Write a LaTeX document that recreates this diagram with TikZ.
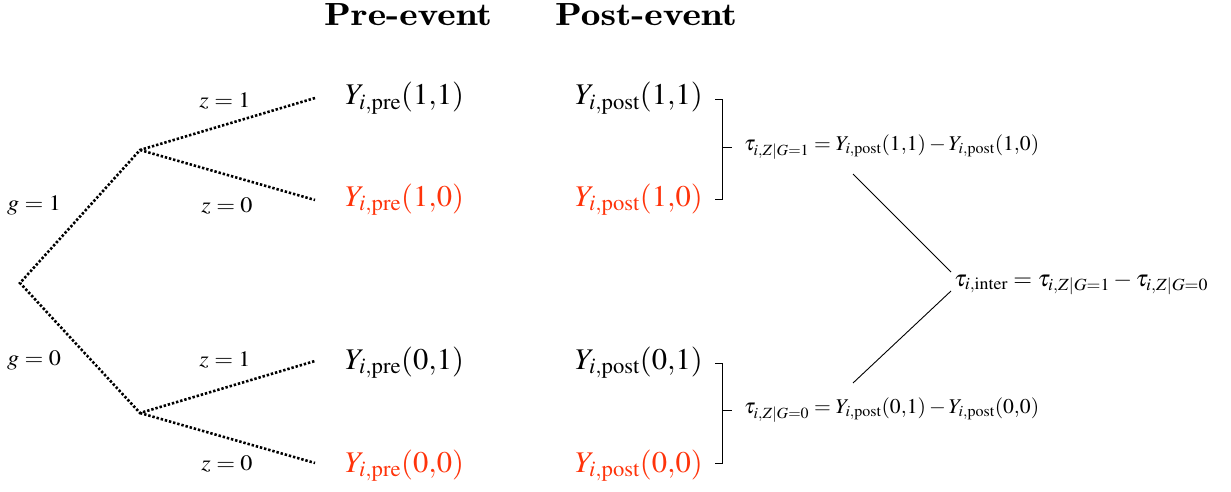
\documentclass[tikz,border=0pt]{standalone}
\usepackage{mathptmx}
\usetikzlibrary{calc}
\definecolor{cfred}{RGB}{255,51,10}
\begin{document}
\begin{tikzpicture}[x=1pt,y=-1pt,
  hdr/.style={font=\fontfamily{lmr}\fontsize{32}{34}\bfseries\selectfont, inner sep=0pt, anchor=base, xscale=1.23},
  ylab/.style={font=\fontsize{30}{32}\selectfont, anchor=base west, inner sep=0pt, xscale=1.02},
  redlab/.style={ylab, text=cfred},
  blab/.style={font=\fontsize{22}{24}\selectfont, inner sep=0pt, xscale=1.1},
  eqlab/.style={font=\fontsize{21}{23}\selectfont, anchor=west, inner sep=0pt, xscale=1.03},
  intlab/.style={font=\fontsize{23}{25}\selectfont, anchor=west, inner sep=0pt, xscale=1.05},
  branch/.style={line width=2.6pt, dash pattern=on 2.4pt off 1.9pt},
  bracket/.style={line width=1pt},
  link/.style={line width=0.9pt}]
\useasboundingbox (0,0) rectangle (1231,492);
% headers
\node[hdr] (hpre) at (408,26) {Pre-event};
\node[hdr] (hpost) at (646,26) {Post-event};
% tree points
\coordinate (R) at (20,283);
\coordinate (G1) at (140,150);
\coordinate (G0) at (140,413);
\coordinate (E11) at (315,98);
\coordinate (E10) at (315,200);
\coordinate (E01) at (315,361);
\coordinate (E00) at (315,463);
\draw[branch] (E11) -- (G1) -- (R) -- (G0) -- (E01);
\draw[branch] (G1) -- (E10);
\draw[branch] (G0) -- (E00);
% branch labels
\node[blab] (lg1) at (34,205) {$g=1$};
\node[blab] (lg0) at (34,360) {$g=0$};
\node[blab] (lz11) at (225,101) {$z=1$};
\node[blab] (lz10) at (227,206) {$z=0$};
\node[blab] (lz01) at (225,360) {$z=1$};
\node[blab] (lz00) at (227,464) {$z=0$};
% potential outcomes
\node[ylab] (pre11) at (345,105) {$Y_{i,\mathrm{pre}}(1{,}1)$};
\node[redlab] (pre10) at (345,206) {$Y_{i,\mathrm{pre}}(1{,}0)$};
\node[ylab] (pre01) at (345,369) {$Y_{i,\mathrm{pre}}(0{,}1)$};
\node[redlab] (pre00) at (345,472) {$Y_{i,\mathrm{pre}}(0{,}0)$};
\node[ylab] (post11) at (575,105) {$Y_{i,\mathrm{post}}(1{,}1)$};
\node[redlab] (post10) at (575,206) {$Y_{i,\mathrm{post}}(1{,}0)$};
\node[ylab] (post01) at (575,369) {$Y_{i,\mathrm{post}}(0{,}1)$};
\node[redlab] (post00) at (575,472) {$Y_{i,\mathrm{post}}(0{,}0)$};
% brackets
\draw[bracket] (715,100) -- (722,100) -- (722,199) -- (715,199);
\draw[bracket] (722,147) -- (732,147);
\draw[bracket] (715,363) -- (722,363) -- (722,463) -- (715,463);
\draw[bracket] (722,410) -- (732,410);
% effects
\node[eqlab] (tau1) at (744,147) {$\tau_{i,Z|G=1}=Y_{i,\mathrm{post}}(1{,}1)-Y_{i,\mathrm{post}}(1{,}0)$};
\node[eqlab] (tau0) at (744,410) {$\tau_{i,Z|G=0}=Y_{i,\mathrm{post}}(0{,}1)-Y_{i,\mathrm{post}}(0{,}0)$};
\node[intlab] (tauint) at (954,284) {$\tau_{i,\mathrm{inter}}=\tau_{i,Z|G=1}-\tau_{i,Z|G=0}$};
\coordinate (a1) at (853,174);
\coordinate (b1) at (951,272);
\coordinate (a0) at (853,383);
\coordinate (b0) at (951,291);
\draw[link] (a1) -- (b1);
\draw[link] (a0) -- (b0);
\end{tikzpicture}
\end{document}
